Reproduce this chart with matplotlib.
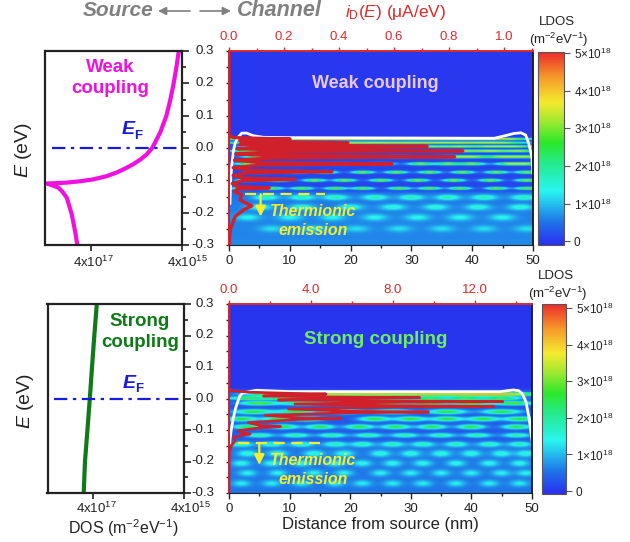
import numpy as np
import matplotlib
matplotlib.use("Agg")
import matplotlib.pyplot as plt
from matplotlib.colors import LinearSegmentedColormap
from matplotlib.ticker import MultipleLocator, NullFormatter, NullLocator, FixedLocator

plt.rcParams['font.family'] = ['Liberation Sans', 'DejaVu Sans']
plt.rcParams['mathtext.fontset'] = 'custom'
plt.rcParams['mathtext.rm'] = 'Liberation Sans'
plt.rcParams['mathtext.it'] = 'Liberation Sans:italic'
plt.rcParams['mathtext.bf'] = 'Liberation Sans:bold'
plt.rcParams['mathtext.default'] = 'regular'

# DOS curves, left panels
weak_dos_E = [0.3, 0.25, 0.2, 0.15, 0.1, 0.05, 0.0, -0.02, -0.035, -0.05, -0.063, -0.076, -0.087, -0.097, -0.103,
              -0.107, -0.1085, -0.11, -0.115, -0.123, -0.135, -0.154, -0.205, -0.257, -0.3]
weak_dos = [4.7e15, 5.3e15, 6.1e15, 7.2e15, 8.8e15, 1.19e16, 1.8e16, 2.4e16, 3.25e16, 4.7e16, 7e16, 1.1e17,
            1.8e17, 3.56e17, 7e17, 1.36e18, 2.25e18, 3.7e18, 2.9e18, 2.07e18, 1.7e18, 1.36e18, 1.06e18, 8.96e17, 8e17]
strong_dos_E = [0.3, 0.2, 0.1, 0.0, -0.1, -0.2, -0.3]
strong_dos = [3.3e17, 3.74e17, 4.2e17, 4.7e17, 5.3e17, 6.0e17, 6.4e17]

# current spectrum iD(E), red curves
weak_id_E = [0.3, 0.04, 0.036, 0.032, 0.0295, 0.028, 0.0265, 0.024, 0.022, 0.0195, 0.018, 0.0165, 0.015, 0.013,
             0.011, 0.009, 0.0065, 0.005, 0.0035, 0.001, -0.002, -0.005, -0.0075, -0.009, -0.0105, -0.013, -0.018,
             -0.023, -0.0255, -0.027, -0.0285, -0.031, -0.038, -0.045, -0.0475, -0.049, -0.0505, -0.053, -0.061,
             -0.069, -0.0715, -0.073, -0.0745, -0.077, -0.085, -0.093, -0.0955, -0.097, -0.0985, -0.101, -0.11,
             -0.119, -0.1215, -0.123, -0.1245, -0.127, -0.135, -0.145, -0.16, -0.17, -0.179, -0.19, -0.212, -0.254, -0.3]
weak_id = [0, 0, 0.003, 0.02, 0.12, 0.222, 0.12, 0.05, 0.04, 0.11, 0.3, 0.432, 0.3, 0.08,
           0.04, 0.12, 0.5, 0.72, 0.5, 0.12, 0.03, 0.14, 0.58, 0.85, 0.58, 0.15, 0.025,
           0.14, 0.55, 0.82, 0.55, 0.15, 0.02, 0.12, 0.4, 0.593, 0.4, 0.11, 0.015,
           0.08, 0.25, 0.374, 0.25, 0.07, 0.015, 0.05, 0.16, 0.24, 0.16, 0.05, 0.012,
           0.03, 0.1, 0.146, 0.1, 0.03, 0.02, 0.046, 0.04, 0.06, 0.083, 0.055, 0.022, 0.004, 0]
strong_id_E = [0.3, 0.03, 0.025, 0.02, 0.0165, 0.0143, 0.012, 0.008, 0.0045, 0.0026, 0.001, -0.0048, -0.0078, -0.01,
               -0.0122, -0.0175, -0.0227, -0.0249, -0.0271, -0.0333, -0.0407, -0.0429, -0.0451, -0.0534, -0.0615,
               -0.064, -0.0665, -0.0767, -0.0865, -0.0894, -0.0923, -0.102, -0.11, -0.1127, -0.1155, -0.124, -0.134,
               -0.148, -0.165, -0.225, -0.3]
strong_id = [0, 0, 0.1, 1.0, 3.0, 4.74, 3.0, 1.68, 5.0, 9.32, 5.5, 2.41, 8.0, 13.38,
             8.0, 3.22, 8.0, 12.94, 8.0, 2.9, 6.0, 9.74, 6.0, 1.76, 3.4,
             5.48, 3.4, 0.94, 1.6, 2.52, 1.6, 0.45, 0.7, 1.03, 0.7, 0.21, 0.3,
             0.13, 0.02, 0, 0]

# band edge, white curves
weak_edge_x = [0.16, 0.27, 0.44, 0.71, 0.99, 1.37, 2.09, 2.91, 4.0, 5.66, 9.5, 43.6, 45.2, 46.9, 48.0, 48.8, 49.3, 49.8, 50.0]
weak_edge_E = [-0.171, -0.099, -0.058, -0.011, 0.014, 0.03, 0.046, 0.046, 0.038, 0.033, 0.032, 0.030, 0.037, 0.045,
               0.047, 0.04, 0.014, -0.027, -0.078]
strong_edge_x = [0.11, 0.38, 0.66, 1.1, 1.76, 2.3, 2.86, 4.5, 10.0, 44.7, 46.0, 46.9, 47.8, 48.4, 49.0, 49.5, 50.0]
strong_edge_E = [-0.141, -0.098, -0.067, -0.03, 0.007, 0.018, 0.02, 0.026, 0.022, 0.0217, 0.025, 0.027, 0.025, 0.015,
                 -0.01, -0.06, -0.132]

# LDOS map: energy of each row, peak value, lobe centres along the channel (nm)
weak_row_E = [0.028, 0.0165, 0.005, -0.009, -0.027, -0.049, -0.075, -0.1, -0.125, -0.153, -0.183, -0.215, -0.25]
weak_row_peak = [3.7, 3.4, 3.2, 3.2, 3.2, 3.2, 3.2, 3.2, 3.0, 1.3, 1.0, 0.8, 0.6]
weak_row_lobes = [
    [3, 9, 15, 21, 27, 33, 39, 45],
    [3, 9, 15, 21, 27, 33, 39, 45],
    [5, 12, 19, 26, 33, 38, 43, 47.5],
    [3, 9, 16, 24, 32, 38, 43, 48],
    [5, 12, 20, 28, 36, 40, 45, 49],
    [3, 10, 18, 25, 31.5, 36, 40, 46, 49],
    [5, 11, 16, 22, 27.5, 33, 38.5, 44, 49],
    [3, 8, 14, 19, 25, 31, 37, 43, 49],
    [2, 7, 12, 17.5, 22, 28, 33, 38, 44, 49],
    [6, 12, 17.5, 24, 30, 36, 42, 48.5],
    [5, 12, 20, 27, 34, 41, 48],
    [3, 10, 17, 24, 31, 38, 45],
    [7, 14, 21, 28, 35, 42, 49],
]
weak_row_wx = [5, 4, 3, 3, 2.6, 2.0, 1.7, 1.7, 1.7, 2, 2, 2, 2]
weak_row_wE = [0.003, 0.003, 0.003, 0.0035, 0.004, 0.004, 0.004, 0.004, 0.004, 0.008, 0.009, 0.01, 0.01]
weak_bg_E = [0.3, 0.04, 0.03, -0.13, -0.14, -0.2, -0.3]
weak_bg = [0.0, 0.0, 0.1, 0.1, 0.5, 0.6, 0.65]

strong_row_E = [0.014, 0.001, -0.015, -0.042, -0.065, -0.09, -0.117, -0.145, -0.175, -0.206, -0.237, -0.27]
strong_row_peak = [3.7, 2.7, 2.7, 2.4, 2.4, 2.3, 1.7, 1.35, 1.05, 0.95, 0.85, 0.8]
strong_row_lobes = [
    [8, 16, 24, 32, 40, 46],
    [3, 9, 15, 21, 27, 33, 39, 45],
    [5, 12, 19, 26, 33, 40, 47],
    [4, 11, 19, 27, 36, 45],
    [2, 8, 13, 24, 30, 36, 42, 48],
    [3, 9, 15, 21.5, 27.5, 33.5, 40, 47.5],
    [5, 11, 17, 23, 29, 35, 41, 47.5],
    [2, 7, 12, 17.5, 22, 27, 32, 37.5, 43, 48],
    [3, 8, 14, 19, 25, 30, 35, 40, 45, 49],
    [2, 7, 12, 17.5, 22, 27, 32, 37.5, 43, 48],
    [3, 8, 14, 19, 25, 30, 35, 40, 45, 49],
    [2, 7, 12, 17.5, 22, 27, 32, 37.5, 43, 48],
]
strong_row_wx = [5, 3, 3, 3, 2.4, 2.2, 2.2, 1.8, 1.6, 1.5, 1.5, 1.5]
strong_row_wE = [0.005, 0.005, 0.006, 0.007, 0.007, 0.007, 0.007, 0.008, 0.01, 0.01, 0.01, 0.01]
strong_bg_E = [0.3, 0.035, 0.025, -0.13, -0.15, -0.3]
strong_bg = [0.0, 0.0, 0.25, 0.3, 0.55, 0.55]

# colour bar stops
cmap_pos = [0, 0.12, 0.28, 0.42, 0.53, 0.65, 0.74, 0.87, 1]
cmap_col = ['#2a2ff0', '#1f75e8', '#29f5f0', '#25ea90', '#2ce82a', '#a8e832', '#f5ea2e', '#f59a2a', '#ee2a2a']
ldos_map = LinearSegmentedColormap.from_list('ldos', list(zip(cmap_pos, cmap_col)))

W, H = 630, 542
RED = '#dd2a2a'
CURVE = '#d0202c'
DARK = '#222222'
YELLOW = '#f5ee2a'


def box(x0, y0, x1, y1):
    return [x0 / W, 1 - y1 / H, (x1 - x0) / W, (y1 - y0) / H]


def txt(x, y, s, **kw):
    kw.setdefault('ha', 'center')
    kw.setdefault('va', 'center')
    fig.text(x / W, 1 - y / H, s, **kw)


def build_map(row_E, row_peak, row_lobes, row_wx, row_wE, bg_E, bg):
    x = np.linspace(0, 50, 500)
    e = np.linspace(0.3, -0.3, 500)
    xx, ee = np.meshgrid(x, e)
    z = np.interp(-e, -np.array(bg_E), bg)[:, None] * np.ones_like(xx)
    for i in range(len(row_E)):
        for c in row_lobes[i]:
            z += row_peak[i] * np.exp(-((xx - c) / row_wx[i]) ** 2 - ((ee - row_E[i]) / row_wE[i]) ** 2)
    return np.clip(z, 0, row_peak[0] + 0.5)


def dos_panel(rect, E, dos, color):
    ax = fig.add_axes(box(*rect))
    ax.set_xscale('log')
    ax.set_xlim(4e18, 4e15)
    ax.set_ylim(-0.3, 0.3)
    ax.plot(dos, E, color=color, lw=3)
    ax.axhline(0, xmin=0.05, color='#1a1ae0', lw=1.6, ls=(0, (6, 2.5, 1.5, 2.5)))
    ax.xaxis.set_major_locator(FixedLocator([4e17, 4e15]))
    ax.xaxis.set_minor_locator(NullLocator())
    ax.xaxis.set_major_formatter(NullFormatter())
    ax.xaxis.set_minor_formatter(NullFormatter())
    ax.tick_params(axis='x', length=4, width=1.2, color=DARK)
    ax.yaxis.tick_right()
    ax.yaxis.set_major_locator(MultipleLocator(0.1))
    ax.yaxis.set_minor_locator(MultipleLocator(0.05))
    ax.set_yticklabels([])
    ax.tick_params(axis='y', which='major', direction='out', length=5, width=1.2, color=DARK, labelright=False)
    ax.tick_params(axis='y', which='minor', direction='out', length=3, width=1.2, color=DARK)
    for s in ax.spines.values():
        s.set_linewidth(1.6)
        s.set_color(DARK)
    return ax


def map_panel(rect, z, id_E, id_vals, id_max, id_ticks, id_labels, edge_x, edge_E, vmin, vmax, id_lw):
    ax = fig.add_axes(box(*rect))
    im = ax.imshow(z, extent=[0, 50, -0.3, 0.3], aspect='auto', cmap=ldos_map, vmin=vmin, vmax=vmax,
                   interpolation='bilinear')
    ax.plot(edge_x, edge_E, color='white', lw=2)
    ax.set_xlim(0, 50)
    ax.set_ylim(-0.3, 0.3)
    ax.set_xticks([0, 10, 20, 30, 40, 50])
    ax.xaxis.set_minor_locator(MultipleLocator(5))
    ax.yaxis.set_major_locator(MultipleLocator(0.1))
    ax.yaxis.set_minor_locator(MultipleLocator(0.05))
    ax.set_yticklabels([])
    ax.tick_params(axis='x', which='major', length=4, width=1, color=DARK, labelsize=9.5, labelcolor=DARK, pad=3)
    ax.tick_params(axis='x', which='minor', length=2.5, width=1, color=DARK)
    ax.tick_params(axis='y', which='both', length=2.5, width=1, color=DARK)
    ax.spines['bottom'].set_color(DARK)
    ax.spines['right'].set_color(DARK)
    ax.spines['right'].set_linewidth(1.4)
    ax.spines['left'].set_color(CURVE)
    ax.spines['left'].set_linewidth(1.4)
    ax.spines['top'].set_visible(False)

    top = ax.twiny()
    top.plot(id_vals, id_E, color=CURVE, lw=id_lw)
    top.set_xlim(0, id_max)
    top.set_xticks(id_ticks)
    top.set_xticklabels(id_labels)
    top.xaxis.set_minor_locator(MultipleLocator(id_ticks[1] / 2))
    top.tick_params(axis='x', which='major', length=3, width=1, color=RED, labelsize=9.5, labelcolor=RED, pad=3)
    top.tick_params(axis='x', which='minor', length=2, width=1, color=RED)
    top.spines['top'].set_color(RED)
    top.spines['top'].set_linewidth(1.4)
    top.spines['left'].set_visible(False)
    top.spines['right'].set_visible(False)
    top.spines['bottom'].set_visible(False)
    return ax, im


def colorbar_panel(rect, im, lbl_x, lbl_y):
    cax = fig.add_axes(box(*rect))
    cb = fig.colorbar(im, cax=cax)
    cb.set_ticks([0, 1, 2, 3, 4, 5])
    cb.set_ticklabels(['0', '1×10$^{18}$', '2×10$^{18}$', '3×10$^{18}$', '4×10$^{18}$', '5×10$^{18}$'])
    cb.ax.tick_params(length=4, width=0.8, color='#555555', labelsize=8.5, labelcolor=DARK, pad=3)
    cb.outline.set_edgecolor('#555555')
    cb.outline.set_linewidth(0.8)
    txt(lbl_x, lbl_y, 'LDOS', fontsize=9.5, color=DARK)
    txt(lbl_x + 2, lbl_y + 18, '(m$^{-2}$eV$^{-1}$)', fontsize=9.5, color=DARK)


def fermi_label(x, y):
    txt(x, y, 'E', fontsize=14, fontweight='bold', fontstyle='italic', color='#1a1ae0')
    txt(x + 10, y + 6, 'F', fontsize=9.5, fontweight='bold', color='#1a1ae0')


def grey_arrow(x0, x1):
    fig.add_artist(plt.Annotation('', xy=(x1 / W, 1 - 11 / H), xytext=(x0 / W, 1 - 11 / H), xycoords='figure fraction',
                                  arrowprops=dict(arrowstyle='-|>', color='#808080', lw=1.2, mutation_scale=12,
                                                  shrinkA=0, shrinkB=0)))


def yellow_marks(ax, x0, x1, e0, xa, e1):
    ax.plot([x0, x1], [e0, e0], color=YELLOW, lw=1.6, ls=(0, (5, 3)))
    ax.annotate('', xy=(xa, e1), xytext=(xa, e0),
                arrowprops=dict(arrowstyle='-|>', color=YELLOW, lw=1.6, mutation_scale=15, shrinkA=0, shrinkB=0))


fig = plt.figure(figsize=(W / 100, H / 100), dpi=100)

# top row
dos_panel((45.5, 51, 182, 245), weak_dos_E, weak_dos, '#f010e0')
z_weak = build_map(weak_row_E, weak_row_peak, weak_row_lobes, weak_row_wx, weak_row_wE, weak_bg_E, weak_bg)
ax1, im1 = map_panel((229, 51, 533, 245), z_weak, weak_id_E, weak_id, 1.105,
                     [0, 0.2, 0.4, 0.6, 0.8, 1.0], ['0.0', '0.2', '0.4', '0.6', '0.8', '1.0'],
                     weak_edge_x, weak_edge_E, -0.1, 5.03, 2.4)
yellow_marks(ax1, 2.6, 15.8, -0.143, 5.2, -0.212)
colorbar_panel((538, 52, 564, 245), im1, 557, 22)

# bottom row
dos_panel((47.5, 304, 184, 493), strong_dos_E, strong_dos, '#0f7a18')
z_strong = build_map(strong_row_E, strong_row_peak, strong_row_lobes, strong_row_wx, strong_row_wE,
                     strong_bg_E, strong_bg)
ax2, im2 = map_panel((229, 304, 532, 493), z_strong, strong_id_E, strong_id, 14.8,
                     [0, 4, 8, 12], ['0.0', '4.0', '8.0', '12.0'], strong_edge_x, strong_edge_E, -0.08, 5.11, 1.9)
yellow_marks(ax2, 1.5, 15, -0.141, 5, -0.211)
colorbar_panel((542, 304, 566, 494), im2, 556, 276)

# y tick labels between the panels
for y0, y1 in [(51, 245), (304, 493)]:
    for v in [0.3, 0.2, 0.1, 0.0, -0.1, -0.2, -0.3]:
        y = y0 + (0.3 - v) / 0.6 * (y1 - y0)
        txt(214, y, '%.1f' % v, ha='right', fontsize=9.5, color=DARK)

# x tick labels of the DOS panels
for x, y, s in [(93, 262, '4x10$^{17}$'), (187, 262, '4x10$^{15}$'), (96, 508, '4x10$^{17}$'), (190, 508, '4x10$^{15}$')]:
    txt(x, y, s, fontsize=9.5, color=DARK)

txt(23, 150, '$\\mathit{E}$ (eV)', fontsize=14, rotation=90, color=DARK)
txt(25, 401, '$\\mathit{E}$ (eV)', fontsize=14, rotation=90, color=DARK)
txt(123, 528, 'DOS (m$^{-2}$eV$^{-1}$)', fontsize=11.5, color=DARK)
txt(380, 524, 'Distance from source (nm)', fontsize=12, color=DARK)

txt(118, 10, 'Source', fontsize=15, fontweight='bold', fontstyle='italic', color='#808080')
txt(279, 11, 'Channel', fontsize=15.5, fontweight='bold', fontstyle='italic', color='#808080')
grey_arrow(190, 158)
grey_arrow(200, 231)
txt(396, 13, '$\\mathit{i}_{D}$($\\mathit{E}$) (μA/eV)', fontsize=12.5, color=RED)

txt(110, 78, 'Weak\ncoupling', fontsize=13.5, fontweight='bold', color='#f010e0', linespacing=1.25)
txt(140, 332, 'Strong\ncoupling', fontsize=13.5, fontweight='bold', color='#0f7a18', linespacing=1.25)
fermi_label(128, 130)
fermi_label(129, 383)
txt(375, 83, 'Weak coupling', fontsize=13, fontweight='bold', color='#e8c8f0')
txt(376, 340, 'Strong coupling', fontsize=13.5, fontweight='bold', color='#70ee60')
txt(313, 221, 'Thermionic\nemission', fontsize=11.5, fontweight='bold', fontstyle='italic', color=YELLOW, linespacing=1.3)
txt(313, 470, 'Thermionic\nemission', fontsize=11.5, fontweight='bold', fontstyle='italic', color=YELLOW, linespacing=1.3)

fig.savefig('out.png', dpi=100)
